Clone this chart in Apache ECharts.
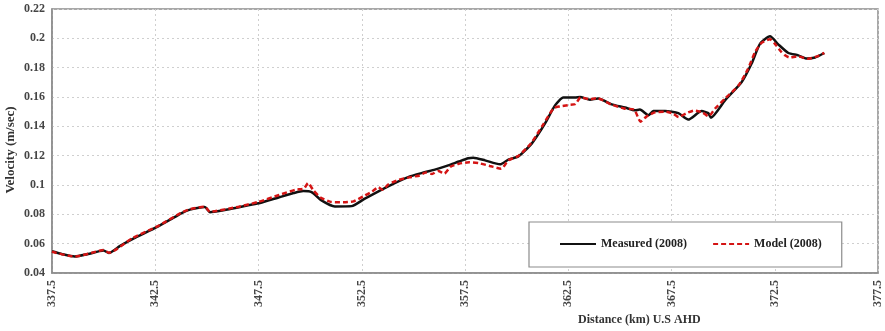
<!DOCTYPE html>
<html>
<head>
<meta charset="utf-8">
<script src="https://cdn.jsdelivr.net/npm/echarts@6/dist/echarts.min.js"></script>
<style>
  html, body { margin: 0; padding: 0; background: #ffffff; }
  #chart { width: 885px; height: 331px; }
</style>
</head>
<body>
<div id="chart"></div>
<script>
// Distance along the river (km) and velocity (m/sec), measured survey
const measuredKm = [337.5, 338.0, 338.6, 339.2, 339.8, 340.0, 340.25, 340.8, 341.44, 342.57,
  343.2, 343.78, 344.18, 344.9, 345.15, 345.8, 346.44, 347.0, 347.57, 348.54,
  349.2, 349.67, 350.07, 350.55, 351.2, 352.01, 352.65, 353.78, 354.75, 355.5,
  356.04, 356.69, 357.2, 357.66, 357.9, 358.47, 359.2, 359.6, 360.08, 360.73,
  361.37, 361.86, 362.26, 362.83, 363.07, 363.55, 363.95, 364.6, 365.25, 365.73,
  365.97, 366.38, 366.62, 367.19, 367.83, 368.31, 368.96, 369.28, 369.41, 370.09,
  370.9, 371.38, 371.79, 372.27, 372.67, 373.16, 373.64, 374.05, 374.45, 374.9];
const measuredVel = [0.0548, 0.0528, 0.0512, 0.0528, 0.0549, 0.0554, 0.0536, 0.0585, 0.0634, 0.0713,
  0.0762, 0.0809, 0.0832, 0.0850, 0.0815, 0.0828, 0.0845, 0.0862, 0.0877, 0.0918,
  0.0945, 0.0959, 0.0952, 0.0895, 0.0854, 0.0856, 0.0907, 0.0991, 0.1054, 0.1085,
  0.1105, 0.1134, 0.1160, 0.1182, 0.1186, 0.1168, 0.1141, 0.1173, 0.1195, 0.1282,
  0.1418, 0.1543, 0.1596, 0.1596, 0.1600, 0.1582, 0.1589, 0.1550, 0.1528, 0.1509,
  0.1514, 0.1475, 0.1504, 0.1504, 0.1490, 0.1446, 0.1504, 0.1490, 0.1459, 0.1577,
  0.1702, 0.1828, 0.1964, 0.2014, 0.1959, 0.1900, 0.1884, 0.1862, 0.1869, 0.1900];

// Model results for the same reach
const modelKm = [337.5, 338.6, 339.8, 340.0, 340.25, 341.4, 342.6, 343.8, 344.2, 344.9,
  345.15, 346.4, 347.5, 348.5, 349.3, 349.7, 349.9, 350.15, 350.5, 351.0,
  351.6, 352.1, 352.6, 353.0, 353.3, 353.5, 353.8, 354.3, 354.8, 355.3,
  355.6, 355.9, 356.2, 356.5, 356.8, 357.2, 357.7, 358.2, 358.7, 359.25,
  359.6, 360.1, 360.7, 361.3, 361.8, 362.1, 362.5, 362.85, 363.1, 363.5,
  363.9, 364.6, 365.2, 365.7, 366.0, 366.3, 366.7, 367.2, 367.6, 367.85,
  368.2, 368.6, 369.0, 369.3, 369.6, 370.1, 370.75, 371.2, 371.55, 371.86,
  372.27, 372.5, 372.8, 373.0, 373.2, 373.64, 374.1, 374.5, 374.9];
const modelVel = [0.0545, 0.0512, 0.0552, 0.0556, 0.0538, 0.0638, 0.0718, 0.0814, 0.0836, 0.0852,
  0.0818, 0.0848, 0.0885, 0.0932, 0.0968, 0.0975, 0.1013, 0.0965, 0.0915, 0.0885,
  0.0882, 0.0888, 0.0925, 0.0955, 0.0985, 0.0968, 0.1005, 0.1035, 0.1052, 0.1065,
  0.1085, 0.1075, 0.1095, 0.1078, 0.1125, 0.1145, 0.1155, 0.1148, 0.1130, 0.1111,
  0.1168, 0.1200, 0.1285, 0.1415, 0.1525, 0.1536, 0.1545, 0.1552, 0.1598, 0.1585,
  0.1592, 0.1548, 0.1522, 0.1512, 0.1432, 0.1468, 0.1495, 0.1500, 0.1485, 0.1463,
  0.1488, 0.1508, 0.1495, 0.1468, 0.1520, 0.1590, 0.1680, 0.1790, 0.1907, 0.1969,
  0.1993, 0.1964, 0.1910, 0.1884, 0.1870, 0.1877, 0.1860, 0.1875, 0.1900];

// Axis ranges
const kmMin = 337.5, kmMax = 377.5, kmStep = 5;
const velMin = 0.04, velMax = 0.22, velStep = 0.02;

const seriesNames = ['Measured (2008)', 'Model (2008)'];
const xTitle = 'Distance (km) U.S AHD';
const yTitle = 'Velocity (m/sec)';

// The x axis runs from 0 so ticks land on kmMin + n*kmStep
const pairs = (km, v) => km.map((k, i) => [k - kmMin, v[i]]);

const serif = '"Liberation Serif", "Times New Roman", serif';
const tickText = { fontFamily: serif, fontWeight: 'bold', fontSize: 12, color: '#454545' };

const chart = echarts.init(document.getElementById('chart'), null, { renderer: 'canvas' });
chart.setOption({
  animation: false,
  backgroundColor: '#ffffff',
  grid: { left: 52, right: 7, top: 9, bottom: 58, show: true, borderColor: '#8c8c8c', borderWidth: 1.5, backgroundColor: 'transparent' },
  xAxis: {
    type: 'value', min: 0, max: kmMax - kmMin, interval: kmStep,
    axisLine: { show: true, lineStyle: { color: '#8c8c8c', width: 1.5 } },
    axisTick: { show: false },
    splitLine: { show: true, lineStyle: { color: '#cfcfcf', type: [2, 3], width: 1 } },
    axisLabel: Object.assign({ rotate: 90, margin: 7, formatter: v => (v + kmMin).toFixed(1) }, tickText)
  },
  yAxis: {
    type: 'value', min: velMin, max: velMax, interval: velStep,
    axisLine: { show: true, lineStyle: { color: '#8c8c8c', width: 1.5 } },
    axisTick: { show: false },
    splitLine: { show: true, lineStyle: { color: '#cfcfcf', type: [2, 3], width: 1 } },
    axisLabel: Object.assign({ margin: 7, formatter: v => String(parseFloat(v.toFixed(2))) }, tickText)
  },
  legend: {
    left: 529, top: 222,
    padding: [16, 20, 17, 30],
    itemGap: 25,
    itemWidth: 36, itemHeight: 12,
    backgroundColor: '#ffffff',
    borderColor: '#8c8c8c', borderWidth: 1.2,
    itemStyle: { opacity: 0 },
    textStyle: { fontFamily: serif, fontWeight: 'bold', fontSize: 12, color: '#222222' },
    data: seriesNames
  },
  graphic: [
    { type: 'text', left: 578, top: 314,
      style: { text: xTitle, font: 'bold 12px ' + serif, fill: '#333333' } },
    { type: 'text', x: 11, y: 150, rotation: Math.PI / 2,
      style: { text: yTitle, font: 'bold 13px ' + serif, fill: '#333333', align: 'center', verticalAlign: 'middle' } }
  ],
  series: [
    {
      name: seriesNames[0], type: 'line', symbol: 'none', smooth: 0.2, z: 2,
      data: pairs(measuredKm, measuredVel),
      lineStyle: { color: '#111111', width: 2.5 },
      itemStyle: { color: '#111111' }
    },
    {
      name: seriesNames[1], type: 'line', symbol: 'none', smooth: 0.2, z: 3,
      data: pairs(modelKm, modelVel),
      lineStyle: { color: '#d41414', width: 2.5, type: [5, 3] },
      itemStyle: { color: '#d41414' }
    }
  ]
});
</script>
</body>
</html>
